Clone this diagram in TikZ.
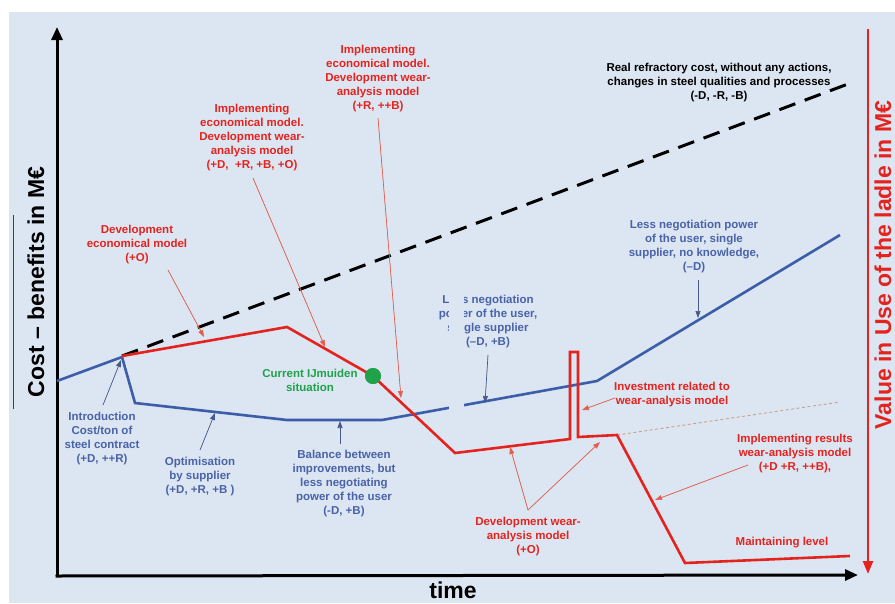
\documentclass[tikz,border=0pt]{standalone}
\usepackage{fontspec}
\setmainfont{Liberation Sans}
\usetikzlibrary{arrows.meta}
\definecolor{bg}{HTML}{DCE6F2}
\definecolor{myred}{HTML}{E5231E}
\definecolor{annred}{HTML}{E0604E}
\definecolor{myblue}{HTML}{3C5DA8}
\definecolor{bluetxt}{HTML}{4A62A8}
\definecolor{annblue}{HTML}{4A5A88}
\definecolor{mygreen}{HTML}{1FA24A}
\definecolor{fadeline}{HTML}{C9A08E}
\begin{document}
\begin{tikzpicture}[x=1pt,y=-1pt,
  lbl/.style={font=\bfseries\fontsize{11.5}{14}\selectfont, align=center, inner sep=0pt},
  redlbl/.style={lbl, text=myred},
  bluelbl/.style={lbl, text=bluetxt},
  axislbl/.style={font=\bfseries\fontsize{23}{26}\selectfont, inner sep=0pt},
  ann/.style={line width=0.7pt, -{Triangle[length=7pt,width=5pt]}},
  redann/.style={ann, draw=annred, fill=myred},
  blueann/.style={ann, draw=annblue, fill=myblue},
  axis/.style={line width=3pt, -{Triangle[length=13pt,width=11pt]}},
  curve/.style={line width=2.6pt, line join=miter},
]
\useasboundingbox (0,0) rectangle (895,603);
\fill[bg] (9,12) rectangle (895,603);

% axes
\coordinate (O) at (57,576);
\coordinate (Ytop) at (57,27);
\coordinate (Xend) at (858,575);
\draw[axis] (O) -- (Ytop);
\draw[axis] ([xshift=-1.5pt]O) -- (Xend);
\coordinate (Rtop) at (868,29);
\coordinate (Rbot) at (868,574);
\draw[myred, line width=2.5pt, -{Triangle[length=13pt,width=10pt]}] (Rtop) -- (Rbot);

% axis labels
\node[axislbl, rotate=90] (ylab) at (36,282) {Cost – benefits in M€};
\coordinate (bar1) at (13,215);
\coordinate (bar2) at (13,409);
\draw[line width=0.9pt, black!75] (bar1) -- (bar2);
\node[axislbl, rotate=90, text=myred] (vlab) at (883,265) {Value in Use of the ladle in M€};
\node[axislbl] (tlab) at (453,590) {time};

% dashed real cost line
\coordinate (d0) at (122,356);
\coordinate (d1) at (848,84);
\draw[line width=3pt, dash pattern=on 17pt off 10pt] (d0) -- (d1);

% faint dashed extension
\coordinate (f0) at (617,435);
\coordinate (f1) at (840,402);
\draw[fadeline, line width=0.9pt, dash pattern=on 3pt off 2.5pt] (f0) -- (f1);

% blue line
\coordinate (b0) at (57,381);
\coordinate (b1) at (122,357);
\coordinate (b2) at (135,403);
\coordinate (b3) at (287,420);
\coordinate (b4) at (382,420);
\coordinate (b7) at (597,381);
\coordinate (b8) at (840,235);
\draw[myblue, curve] (b0) -- (b1) -- (b2) -- (b3) -- (b4) -- (b7) -- (b8);

% green dot (current situation)
\node[circle, fill=mygreen, minimum size=16pt, inner sep=0pt] (dot) at (373,376) {};

% red line
\coordinate (r0) at (122,356);
\coordinate (r1) at (287,327);
\coordinate (r2) at (455,453);
\coordinate (r3) at (570,439);
\coordinate (r4) at (570,352);
\coordinate (r5) at (578,352);
\coordinate (r6) at (578,437);
\coordinate (r7) at (617,435);
\coordinate (r8) at (685,563);
\coordinate (r9) at (850,556);
\draw[myred, curve] (r0) -- (r1) -- (dot.center) -- (r2) -- (r3) -- (r4) -- (r5) -- (r6) -- (r7) -- (r8) -- (r9);
\node[circle, fill=mygreen, minimum size=16pt, inner sep=0pt] at (dot) {};

% labels
\node[redlbl] (t1) at (137,245) {Development\\economical model\\(+O)};
\node[redlbl] (t2) at (252,138) {Implementing\\economical model.\\Development wear-\\analysis model\\(+D,\ \ +R, +B, +O)};
\node[redlbl] (t3) at (378,79) {Implementing\\economical model.\\Development wear-\\analysis model\\(+R, ++B)};
\node[lbl] (t4) at (719,83) {Real refractory cost, without any actions,\\changes in steel qualities and processes\\(-D, -R, -B)};
\node[bluelbl] (t5) at (694,247) {Less negotiation power\\of the user, single\\supplier, no knowledge,\\(--D)};
\node[bluelbl] (t6) at (488,322) {Less negotiation\\power of the user,\\single supplier\\(–D, +B)};
\node[lbl, text=mygreen] (t7) at (310,380) {Current IJmuiden\\situation};
\node[bluelbl] (t8) at (102,439) {Introduction\\Cost/ton of\\steel contract\\(+D, ++R)};
\node[bluelbl] (t9) at (200,477) {Optimisation\\by supplier\\(+D, +R, +B )};
\node[bluelbl] (t10) at (344,484) {Balance between\\improvements, but\\less negotiating\\power of the user\\(-D, +B)};
\node[redlbl] (t11) at (672,395) {Investment related to\\wear-analysis model};
\node[redlbl] (t12) at (795,454) {Implementing results\\wear-analysis model\\(+D +R, ++B),};
\node[redlbl] (t13) at (528,537) {Development wear-\\analysis model\\(+O)};
\node[redlbl] (t14) at (782,543) {Maintaining level};

% occluding strip (gap in the blue line and label)
\fill[bg] (449,290) rectangle (464,413);

% annotation arrows
\coordinate (a1s) at (168,270);  \coordinate (a1e) at (204,337);
\coordinate (a2s) at (253,178);  \coordinate (a2e) at (325,347);
\coordinate (a3s) at (378,118);  \coordinate (a3e) at (401,398);
\coordinate (a5s) at (698,280);  \coordinate (a5e) at (698,318);
\coordinate (a6s) at (488,355);  \coordinate (a6e) at (485,403);
\coordinate (a8s) at (103,405);  \coordinate (a8e) at (121,360);
\coordinate (a9s) at (200,450);  \coordinate (a9e) at (215,413);
\coordinate (a10s) at (340,444); \coordinate (a10e) at (340,421);
\coordinate (a11s) at (615,398); \coordinate (a11e) at (582,410);
\coordinate (a12s) at (748,465); \coordinate (a12e) at (655,500);
\coordinate (a13s) at (528,510); \coordinate (a13e) at (510,447);
\coordinate (a13f) at (600,442);
\draw[redann] (a1s) -- (a1e);
\draw[redann] (a2s) -- (a2e);
\draw[redann] (a3s) -- (a3e);
\draw[blueann] (a5s) -- (a5e);
\draw[blueann] (a6s) -- (a6e);
\draw[blueann] (a8s) -- (a8e);
\draw[blueann] (a9s) -- (a9e);
\draw[blueann] (a10s) -- (a10e);
\draw[redann] (a11s) -- (a11e);
\draw[redann] (a12s) -- (a12e);
\draw[redann] (a13s) -- (a13e);
\draw[redann] (a13s) -- (a13f);
\end{tikzpicture}
\end{document}
